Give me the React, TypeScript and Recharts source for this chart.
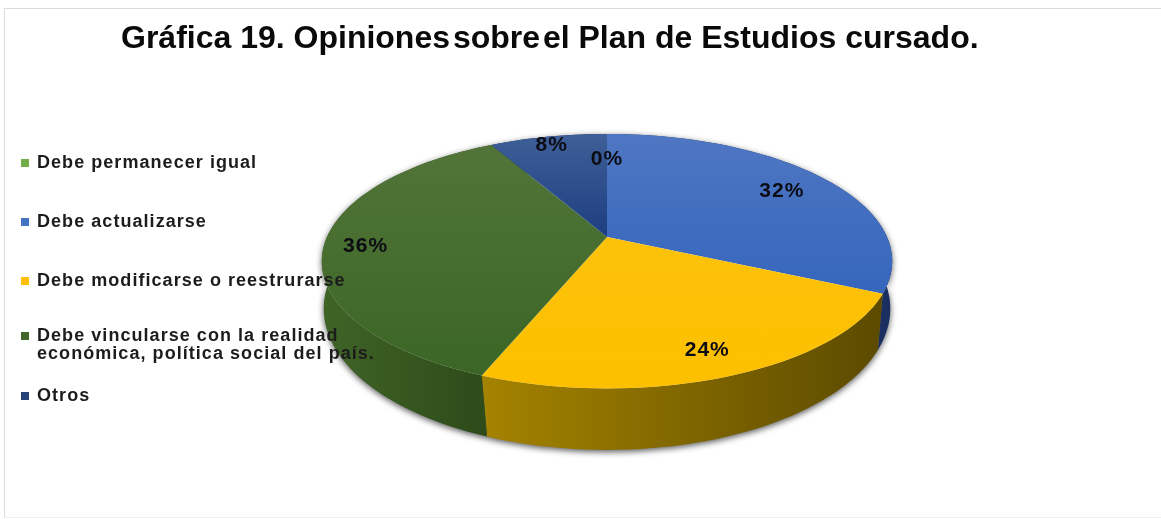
import { PieChart, Pie, Legend } from 'recharts'

const categories = [
  'Debe permanecer igual',
  'Debe actualizarse',
  'Debe modificarse o reestrurarse',
  'Debe vincularse con la realidad económica, política social del país.',
  'Otros',
]
const values = [0, 32, 24, 36, 8]
const colors = ['#70ad47', '#4472c4', '#ffc000', '#43682b', '#264478']

const data = categories.map((name, i) => ({ name, value: values[i], fill: colors[i] }))

// per slice: how far out the percent label sits, and gradient stops
const labelRadius = [0.75, 0.8, 0.83, 0.855, 0.93]
const topStops = [
  ['#70ad47', '#70ad47'],
  ['#4f76c2', '#3566bd'],
  ['#fcc20a', '#fdc000'],
  ['#527439', '#3b6625'],
  ['#3f5f98', '#1d3e80'],
]
const sideStops = [
  ['#4f7a32', '#4f7a32'],
  ['#1f3a78', '#1a2f60'],
  ['#a58300', '#5c4a00'],
  ['#3f6427', '#2d4a19'],
  ['#1a2f60', '#1a2f60'],
]
const legendTops = [153, 212, 271, 326, 386]

// the pie is seen in perspective, so angles go through a projection instead of a plain circle
const rim = (deg: number, A: number, B: number, p: number, D = 0, r = 1) => {
  const t = ((90 - deg) * Math.PI) / 180
  const u = Math.sin(t) * r
  const v = -Math.cos(t) * r
  const w = 1 - p * v
  return [(A * u) / w, D + (B * v) / w]
}
const topRim = (deg: number, R: number, r = 1) => rim(deg, R, R * 0.438, 0.19, 0, r)
const lowRim = (deg: number, R: number) => rim(deg, R, R * 0.493, 0.152, R * 0.179)

const arc = (from: number, to: number, f: (d: number) => number[]) => {
  const n = Math.max(2, Math.ceil(Math.abs(from - to) / 2))
  const pts: number[][] = []
  for (let i = 0; i <= n; i++) pts.push(f(from + ((to - from) * i) / n))
  return pts
}
const toPath = (pts: number[][], cx: number, cy: number) =>
  pts.map((q, i) => `${i ? 'L' : 'M'}${(cx + q[0]).toFixed(1)} ${(cy + q[1]).toFixed(1)}`).join(' ') + ' Z'

function TopSlice(props: any) {
  const { cx, cy, outerRadius, startAngle, endAngle, name } = props
  if (startAngle === endAngle) return null
  const pts = [[0, 0], ...arc(startAngle, endAngle, d => topRim(d, outerRadius))]
  return <path d={toPath(pts, cx, cy)} fill={`url(#top${categories.indexOf(name)})`} />
}

function SideSlice(props: any) {
  const { cx, cy, outerRadius, startAngle, endAngle, name } = props
  if (startAngle === endAngle) return null
  const pts = [
    ...arc(startAngle, endAngle, d => topRim(d, outerRadius)),
    ...arc(endAngle, startAngle, d => lowRim(d, outerRadius)),
  ]
  return <path d={toPath(pts, cx, cy)} fill={`url(#side${categories.indexOf(name)})`} />
}

const renderLabel = (props: any) => {
  const { cx, cy, outerRadius, midAngle, value, name } = props
  const [x, y] = topRim(midAngle, outerRadius, labelRadius[categories.indexOf(name)])
  return (
    <text
      x={cx + x}
      y={cy + y + 1}
      textAnchor="middle"
      dominantBaseline="central"
      fontSize={21}
      fontWeight={700}
      fontFamily="Liberation Sans"
      letterSpacing={1}
      fill="#0c0c14"
    >
      {value}%
    </text>
  )
}

// both Pies feed the legend, so keep one row per category
const renderLegend = (props: any) => {
  const rows = categories.map(c => props.payload.find((p: any) => p.value === c)).filter(Boolean)
  return (
    <div style={{ position: 'relative' }}>
      {rows.map((entry: any, i: number) => (
        <div key={i} style={{ position: 'absolute', left: 21, top: legendTops[i], width: 372, display: 'flex' }}>
          <span style={{ width: 8, height: 8, marginTop: 6, marginRight: 8, flex: 'none', background: entry.color }} />
          <span style={{ fontSize: 18, lineHeight: '18px', fontWeight: 700, color: '#1c1c1c', letterSpacing: 1.05 }}>
            {entry.value}
          </span>
        </div>
      ))}
    </div>
  )
}

export default function App() {
  return (
    <div style={{ position: 'absolute', left: 0, top: 0, width: 1161, height: 519, overflow: 'hidden', background: '#fff', fontFamily: 'Liberation Sans', filter: 'blur(0.4px)' }}>
      <style>{`.side-pie { filter: drop-shadow(0 2px 3px rgba(0,0,0,0.65)); }`}</style>
      <div style={{ position: 'absolute', left: 4, top: 8, width: 1170, height: 508, borderLeft: '1px solid #dcdcdc', borderTop: '1px solid #dcdcdc', borderBottom: '1px solid #eeeeee' }} />
      <div style={{ position: 'absolute', left: 0, top: 0 }}>
        <PieChart width={1161} height={519} margin={{ top: 0, right: 0, bottom: 0, left: 0 }}>
          <defs>
            {topStops.map((s, i) => (
              <linearGradient key={i} id={`top${i}`} x1="0" y1="0" x2="0" y2="1">
                <stop offset="0" stopColor={s[0]} />
                <stop offset="1" stopColor={s[1]} />
              </linearGradient>
            ))}
            {sideStops.map((s, i) => (
              <linearGradient key={i} id={`side${i}`} x1="0" y1="0" x2="1" y2="0">
                <stop offset="0" stopColor={s[0]} />
                <stop offset="1" stopColor={s[1]} />
              </linearGradient>
            ))}
          </defs>
          <text x={121} y={48} fontSize={32} fontWeight={700} fontFamily="Liberation Sans" fill="#0a0a0a">
            Gráfica 19. <tspan wordSpacing={-6}>Opiniones sobre el</tspan> Plan de Estudios cursado.
          </text>
          <Pie
            data={data}
            dataKey="value"
            nameKey="name"
            cx={607}
            cy={237}
            outerRadius={280}
            startAngle={90}
            endAngle={-270}
            className="side-pie"
            legendType="none"
            shape={SideSlice}
            stroke="none"
            isAnimationActive={false}
          />
          <Pie
            data={data}
            dataKey="value"
            nameKey="name"
            cx={607}
            cy={237}
            outerRadius={280}
            startAngle={90}
            endAngle={-270}
            shape={TopSlice}
            stroke="none"
            label={renderLabel}
            labelLine={false}
            isAnimationActive={false}
          />
          <Legend content={renderLegend} wrapperStyle={{ left: 0, top: 0, width: 400, height: 0 }} />
        </PieChart>
      </div>
    </div>
  )
}
